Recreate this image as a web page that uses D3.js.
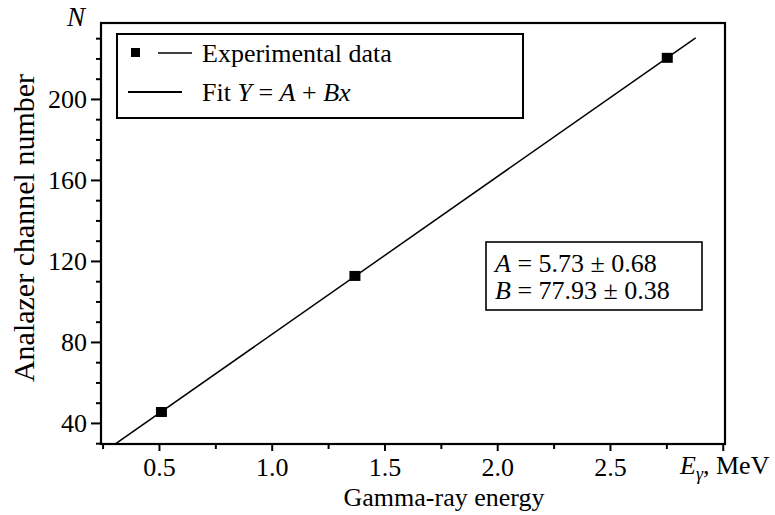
<!DOCTYPE html>
<html>
<head>
<meta charset="utf-8">
<script src="https://cdn.jsdelivr.net/npm/d3@7"></script>
<style>
  body { margin: 0; background: #fff; }
  svg { display: block; }
</style>
</head>
<body>
<div id="chart"></div>
<script>
// measured points (gamma-ray energy, MeV -> channel)
const energies = [0.511, 1.369, 2.754];
const channels = [45.4, 112.6, 220.3];

// linear fit parameters, as printed on the chart
const fitA = 5.73, fitAErr = 0.68;
const fitB = 77.93, fitBErr = 0.38;
const fitRange = [0.31, 2.88];

const xMajor = [0.5, 1.0, 1.5, 2.0, 2.5, 3.0];
const xLabels = ["0.5", "1.0", "1.5", "2.0", "2.5", ""];
const yMajor = [40, 80, 120, 160, 200];

const serif = "Liberation Serif";
const width = 775, height = 515;
const margin = {top: 23, right: 50, bottom: 71, left: 101};

const svg = d3.select("#chart").append("svg")
    .attr("width", width)
    .attr("height", height)
    .attr("font-family", serif);

const x = d3.scaleLinear().domain([0.243, 3.01]).range([margin.left, width - margin.right]);
const y = d3.scaleLinear().domain([29.6, 237.5]).range([height - margin.bottom, margin.top]);

// minor ticks
let xMinor = d3.range(0.25, 3.01, 0.25).filter(v => !xMajor.some(m => Math.abs(m - v) < 1e-6));
let yMinor = d3.range(30, 236, 10).filter(v => !yMajor.includes(v));

svg.append("g")
    .attr("transform", `translate(0,${y.range()[0]})`)
    .call(d3.axisBottom(x).tickValues(xMinor).tickSize(5).tickSizeOuter(0).tickFormat(""))
    .call(g => g.select(".domain").remove())
    .selectAll("line").attr("stroke-width", 2);

svg.append("g")
    .attr("transform", `translate(0,${y.range()[0]})`)
    .call(d3.axisBottom(x).tickValues(xMajor).tickSize(7).tickPadding(7).tickSizeOuter(0)
        .tickFormat((d, i) => xLabels[i]))
    .attr("font-family", serif)
    .attr("font-size", 26)
    .call(g => g.select(".domain").remove())
    .call(g => g.selectAll("line").attr("stroke-width", 2));

svg.append("g")
    .attr("transform", `translate(${x.range()[0]},0)`)
    .call(d3.axisLeft(y).tickValues(yMinor).tickSize(5).tickSizeOuter(0).tickFormat(""))
    .call(g => g.select(".domain").remove())
    .selectAll("line").attr("stroke-width", 2);

svg.append("g")
    .attr("transform", `translate(${x.range()[0]},0)`)
    .call(d3.axisLeft(y).tickValues(yMajor).tickSize(10).tickPadding(4).tickSizeOuter(0))
    .attr("font-family", serif)
    .attr("font-size", 26)
    .call(g => g.select(".domain").remove())
    .call(g => g.selectAll("line").attr("stroke-width", 2));

// frame
svg.append("rect")
    .attr("x", x.range()[0])
    .attr("y", y.range()[1])
    .attr("width", x.range()[1] - x.range()[0])
    .attr("height", y.range()[0] - y.range()[1])
    .attr("fill", "none")
    .attr("stroke", "#000")
    .attr("stroke-width", 2.2);

// clip for the fit line
svg.append("clipPath").attr("id", "plot-clip")
    .append("rect")
    .attr("x", x.range()[0]).attr("y", y.range()[1])
    .attr("width", x.range()[1] - x.range()[0])
    .attr("height", y.range()[0] - y.range()[1]);

const fitLine = d3.line()
    .x(d => x(d))
    .y(d => y(fitA + fitB * d));

svg.append("path")
    .datum(fitRange)
    .attr("clip-path", "url(#plot-clip)")
    .attr("d", fitLine)
    .attr("fill", "none")
    .attr("stroke", "#000")
    .attr("stroke-width", 1.5);

// data markers
svg.selectAll("rect.pt")
    .data(energies)
    .join("rect")
    .attr("class", "pt")
    .attr("x", d => x(d) - 5.5)
    .attr("y", (d, i) => y(channels[i]) - 5)
    .attr("width", 11)
    .attr("height", 10)
    .attr("fill", "#000");

// axis titles
svg.append("text")
    .attr("x", 76).attr("y", 26)
    .attr("text-anchor", "middle")
    .attr("font-size", 27)
    .attr("font-style", "italic")
    .text("N");

svg.append("text")
    .attr("transform", "translate(34,228) rotate(-90)")
    .attr("text-anchor", "middle")
    .attr("font-size", 30)
    .text("Analazer channel number");

svg.append("text")
    .attr("x", 444).attr("y", 506)
    .attr("text-anchor", "middle")
    .attr("font-size", 26)
    .text("Gamma-ray energy");

let eLabel = svg.append("text")
    .attr("x", 680).attr("y", 474)
    .attr("font-size", 26);
eLabel.append("tspan").attr("font-style", "italic").text("E");
eLabel.append("tspan").attr("font-style", "italic").attr("font-size", 18).attr("dy", 6).text("γ");
eLabel.append("tspan").attr("dy", -6).text(", MeV");

// legend
let legend = svg.append("g");
legend.append("rect")
    .attr("x", 117).attr("y", 34)
    .attr("width", 406).attr("height", 84)
    .attr("fill", "#fff")
    .attr("stroke", "#000")
    .attr("stroke-width", 2);

legend.append("rect")
    .attr("x", 131).attr("y", 48)
    .attr("width", 9).attr("height", 9)
    .attr("fill", "#000");
legend.append("line")
    .attr("x1", 158).attr("x2", 192)
    .attr("y1", 53).attr("y2", 53)
    .attr("stroke", "#000").attr("stroke-width", 1.6);
legend.append("text")
    .attr("x", 202).attr("y", 62)
    .attr("font-size", 26)
    .text("Experimental data");

legend.append("line")
    .attr("x1", 128).attr("x2", 182)
    .attr("y1", 92).attr("y2", 92)
    .attr("stroke", "#000").attr("stroke-width", 2);
let fitText = legend.append("text")
    .attr("x", 202).attr("y", 101)
    .attr("font-size", 26);
fitText.append("tspan").text("Fit ");
fitText.append("tspan").attr("font-style", "italic").text("Y");
fitText.append("tspan").text(" = ");
fitText.append("tspan").attr("font-style", "italic").text("A");
fitText.append("tspan").text(" + ");
fitText.append("tspan").attr("font-style", "italic").text("Bx");

// fit parameters box
let params = svg.append("g");
params.append("rect")
    .attr("x", 486).attr("y", 242)
    .attr("width", 216).attr("height", 68)
    .attr("fill", "#fff")
    .attr("stroke", "#000")
    .attr("stroke-width", 1.6);

[["A", fitA, fitAErr], ["B", fitB, fitBErr]].forEach((p, i) => {
    let t = params.append("text")
        .attr("x", 495).attr("y", 272 + i * 27)
        .attr("font-size", 26);
    t.append("tspan").attr("font-style", "italic").text(p[0]);
    t.append("tspan").text(` = ${p[1].toFixed(2)} ± ${p[2].toFixed(2)}`);
});
</script>
</body>
</html>
